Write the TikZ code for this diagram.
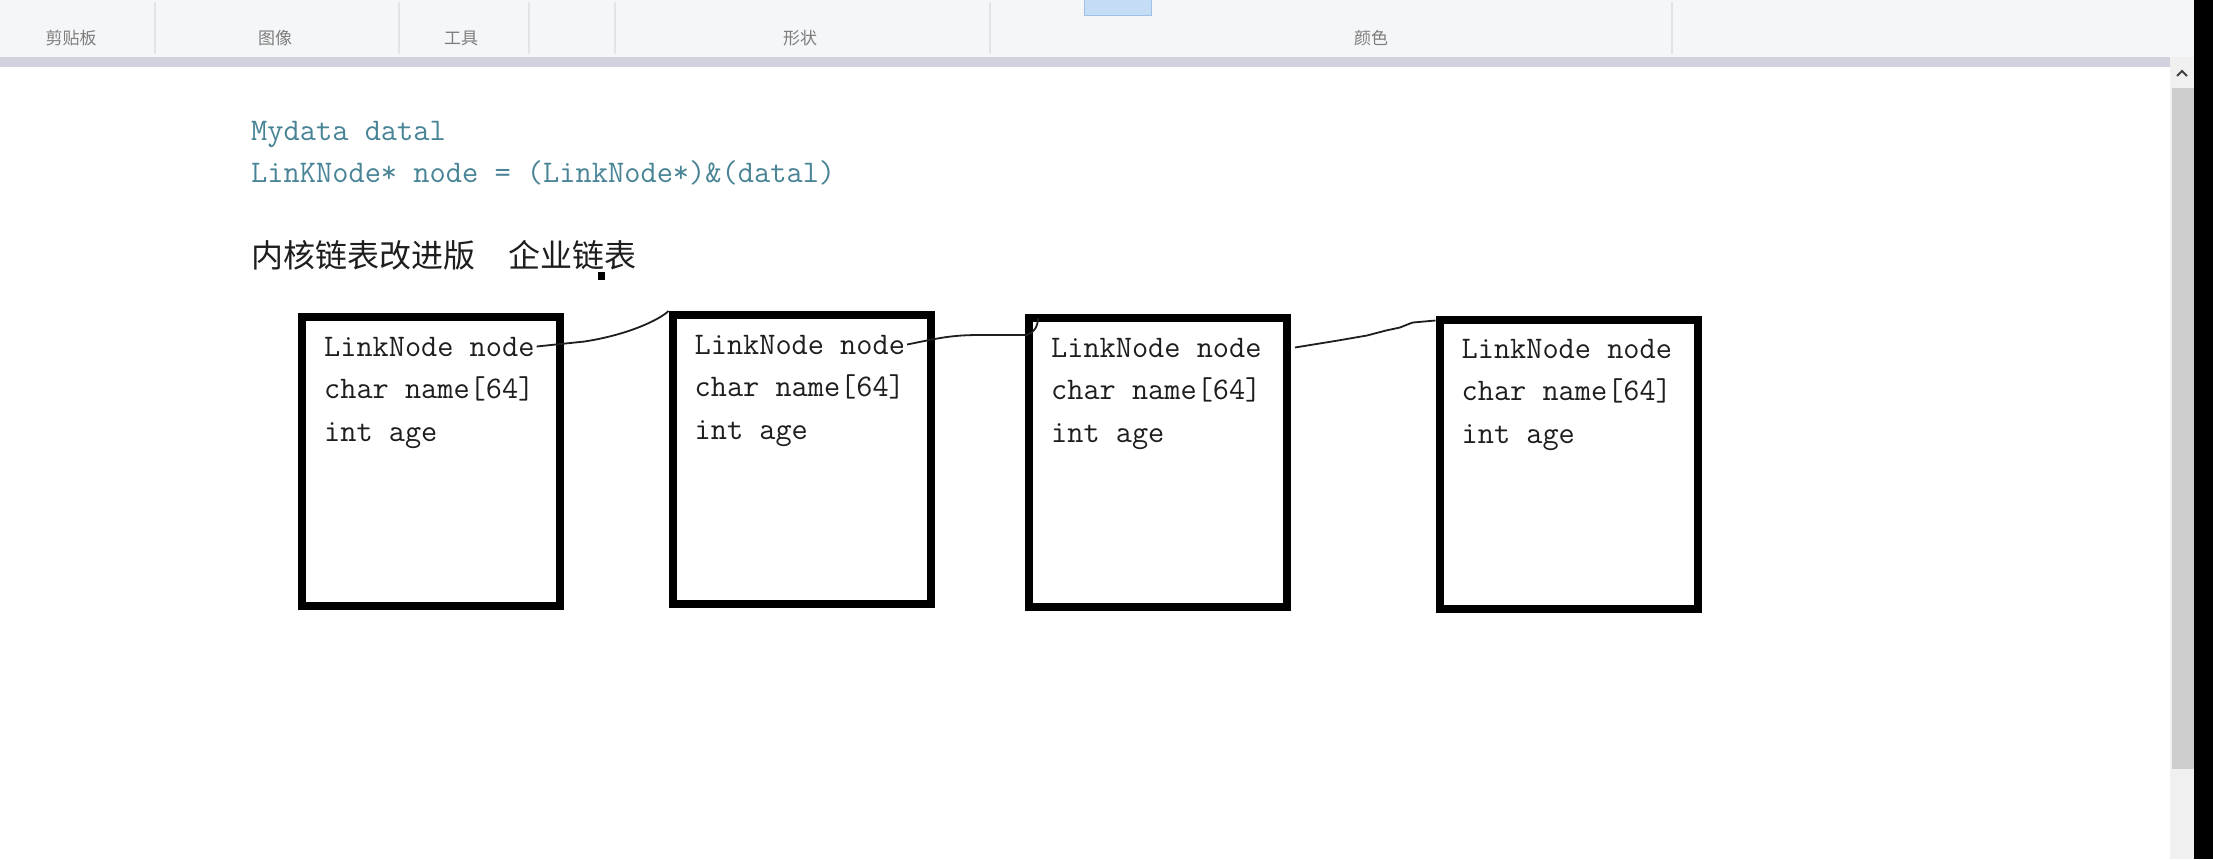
\documentclass[tikz,border=0pt]{standalone}
\usepackage{fontspec}
\newfontfamily\cjk{Noto Sans CJK SC}
\usetikzlibrary{calc}
\definecolor{codeteal}{RGB}{72,132,150}
\definecolor{toolbg}{RGB}{245,246,248}
\definecolor{sepcol}{RGB}{226,228,232}
\definecolor{barcol}{RGB}{210,209,222}
\definecolor{tracol}{RGB}{240,240,240}
\definecolor{thumbcol}{RGB}{205,205,205}
\definecolor{labcol}{RGB}{125,125,125}
\definecolor{selfill}{RGB}{197,220,245}
\definecolor{seldraw}{RGB}{160,192,234}
\definecolor{inkcol}{RGB}{30,30,30}
\tikzset{
  boxst/.style={draw=black, line width=8pt, minimum width=258pt, minimum height=289pt, inner sep=0pt},
  txt/.style={font=\ttfamily\fontsize{31.4}{31}\selectfont, text=inkcol, anchor=base west, inner sep=2pt},
  code/.style={font=\ttfamily\fontsize{31.5}{31}\selectfont, text=codeteal, anchor=base west, inner sep=0pt},
  tlab/.style={font=\cjk\fontsize{17}{17}\selectfont, text=labcol, inner sep=0pt},
  conn/.style={draw=inkcol, line width=1.8pt},
  sepline/.style={draw=sepcol, line width=1.2pt}
}
\begin{document}
\begin{tikzpicture}[x=1pt,y=-1pt]
\useasboundingbox (0,0) rectangle (2213,859);
\fill[white] (0,0) rectangle (2213,859);
% toolbar
\fill[toolbg] (0,0) rectangle (2194,57);
\foreach \sx in {155,399,529,615,990,1672} {\draw[sepline] (\sx,2) -- (\sx,54);}
\node[tlab] (lab1) at (71,38) {剪贴板};
\node[tlab] (lab2) at (275,38) {图像};
\node[tlab] (lab3) at (461,38) {工具};
\node[tlab] (lab4) at (800,38) {形状};
\node[tlab] (lab5) at (1371,38) {颜色};
\filldraw[fill=selfill, draw=seldraw, line width=1pt] (1084,-2) rectangle (1151,16);
\fill[barcol] (0,57) rectangle (2170,67);
% scrollbar
\fill[tracol] (2170,57) rectangle (2194,859);
\fill[thumbcol] (2172,88) rectangle (2194,769);
\draw[draw=black!75, line width=2pt] (2177,76) -- (2182,71) -- (2187,76);
\fill[black] (2194,0) rectangle (2213,859);
% code text
\node[code] (l1) at (251,140) {Mydata datal};
\node[code] (l2) at (251,182) {LinKNode* node = (LinkNode*)\&(datal)};
\node[font=\cjk\fontsize{32}{32}\selectfont, text=inkcol, anchor=west, inner sep=0pt] (title) at (251,255) {内核链表改进版\hspace{33pt}企业链表};
\fill[black] (598,272) rectangle (605,280);
% boxes
\foreach \i/\bx/\by in {1/431/461.5, 2/801.5/459.5, 3/1158/462.5, 4/1568.5/464} {
  \node[boxst] (b\i) at (\bx,\by) {};
  \node[txt] (h\i) at ($(b\i.north west)+(24,43)$) {LinkNode node};
  \node[txt] (c\i) at ($(b\i.north west)+(24,85)$) {char name[64]};
  \node[txt] (a\i) at ($(b\i.north west)+(24,128)$) {int age};
}
% connectors
\draw[conn] (h1.east) -- ($(h1.east)+(48,-5)$) .. controls ($(h1.east)+(93,-12)$) and ($(b2.north west)+(-8,8)$) .. (b2.north west);
\draw[conn] (h2.east) .. controls ($(h2.east)+(30,-6)$) and ($(b3.north west)+(-75,21)$) .. ($(b3.north west)+(-45,21)$) -- ($(b3.north west)+(2,21)$) .. controls ($(b3.north west)+(9,19)$) and ($(b3.north west)+(13,12)$) .. ($(b3.north west)+(13,4)$);
\coordinate (c3s) at ($(b3.east |- h3.east)+(4,0)$);
\draw[conn] (c3s) -- ++(43,-7) -- ++(29,-5) -- ++(19,-5) -- ++(14,-3) -- ++(10,-4) -- ++(3,-1) -- ($(b4.north west)+(0,5)$);
\end{tikzpicture}
\end{document}
